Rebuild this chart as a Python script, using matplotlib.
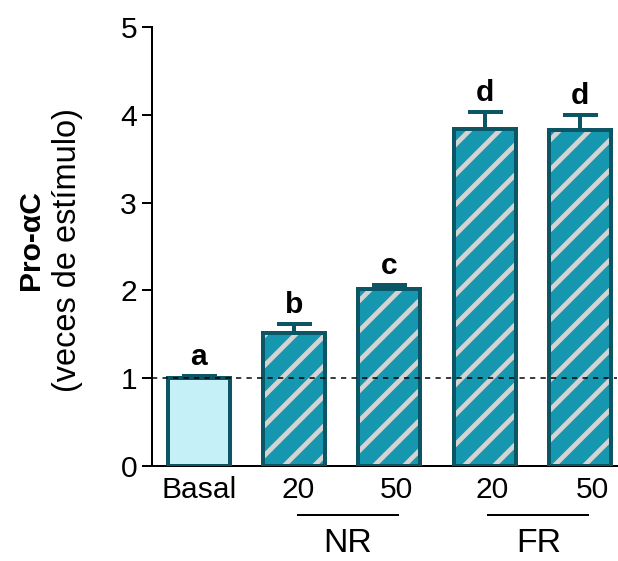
import matplotlib
matplotlib.use("Agg")
import matplotlib.pyplot as plt
import matplotlib.transforms as mtransforms

plt.rcParams['font.family'] = ['Liberation Sans', 'DejaVu Sans']
plt.rcParams['hatch.linewidth'] = 1.9

# datos
categorias = ["Basal", "20", "50", "20", "50"]
medias = [1.00, 1.52, 2.02, 3.84, 3.83]
errores = [0.02, 0.10, 0.04, 0.19, 0.17]
letras = ["a", "b", "c", "d", "d"]
grupos = {"NR": [1, 2], "FR": [3, 4]}

borde = "#0B5565"
relleno_basal = "#C6F0F8"
relleno = "#1497AF"
rayas = "#D4D4D4"

fig = plt.figure(figsize=(618 / 180, 561 / 180), dpi=180)
ax = fig.add_axes([0.246, 0.1693, 0.7524, 0.7826])

x = list(range(len(medias)))
ancho = 0.65

# barras: basal lisa, el resto rayada
ax.bar(x[0], medias[0], ancho, color=relleno_basal, edgecolor=borde,
       linewidth=1.6, zorder=3)
ax.bar(x[1:], medias[1:], ancho, color=relleno, edgecolor=rayas,
       hatch="//", linewidth=0, zorder=3)
ax.bar(x[1:], medias[1:], ancho, fill=False, edgecolor=borde,
       linewidth=1.6, zorder=4)

ax.errorbar(x, medias, yerr=[[0] * len(errores), errores], fmt="none",
            ecolor=borde, elinewidth=1.6, capsize=7, capthick=1.6, zorder=2)

for xi, m, e, l in zip(x, medias, errores, letras):
    ax.annotate(l, (xi, m + e), xytext=(0, 4.5), textcoords="offset points",
                ha="center", va="baseline", fontsize=12, fontweight="bold")

ax.axhline(1, color="black", linewidth=0.6, linestyle=(0, (3.5, 3.5)),
           zorder=5)

ax.set_xlim(-0.49, 4.39)
ax.set_ylim(0, 5)
ax.set_yticks([0, 1, 2, 3, 4, 5])
ax.tick_params(axis="y", labelsize=12, length=4, width=0.8, pad=2)
ax.set_xticks([])
for s in ["top", "right"]:
    ax.spines[s].set_visible(False)
for s in ["left", "bottom"]:
    ax.spines[s].set_linewidth(0.8)

# etiquetas del eje x
desplaz = [0, 1.5, 3, 3, 5]
for xi, c, d in zip(x, categorias, desplaz):
    ax.annotate(c, (xi, 0), xycoords=("data", "axes fraction"),
                xytext=(d, -9.5), textcoords="offset points",
                ha="center", va="center", fontsize=12)

trans = mtransforms.blended_transform_factory(ax.transData, ax.transAxes)
for nombre, idx in grupos.items():
    x0 = idx[0] + 0.04
    x1 = idx[-1] + 0.09
    ax.plot([x0, x1], [-0.112, -0.112], color="black", linewidth=0.8,
            transform=trans, clip_on=False)
    ax.text((x0 + x1) / 2, -0.177, nombre, transform=trans, ha="center",
            va="center", fontsize=13.5)

fig.text(0.050, 0.572, "Pro-αC", rotation=90, ha="center", va="center",
         fontsize=12, fontweight="bold")
fig.text(0.110, 0.554, "(veces de estímulo)", rotation=90, ha="center",
         va="center", fontsize=13)

plt.savefig("out.png", dpi=180)
